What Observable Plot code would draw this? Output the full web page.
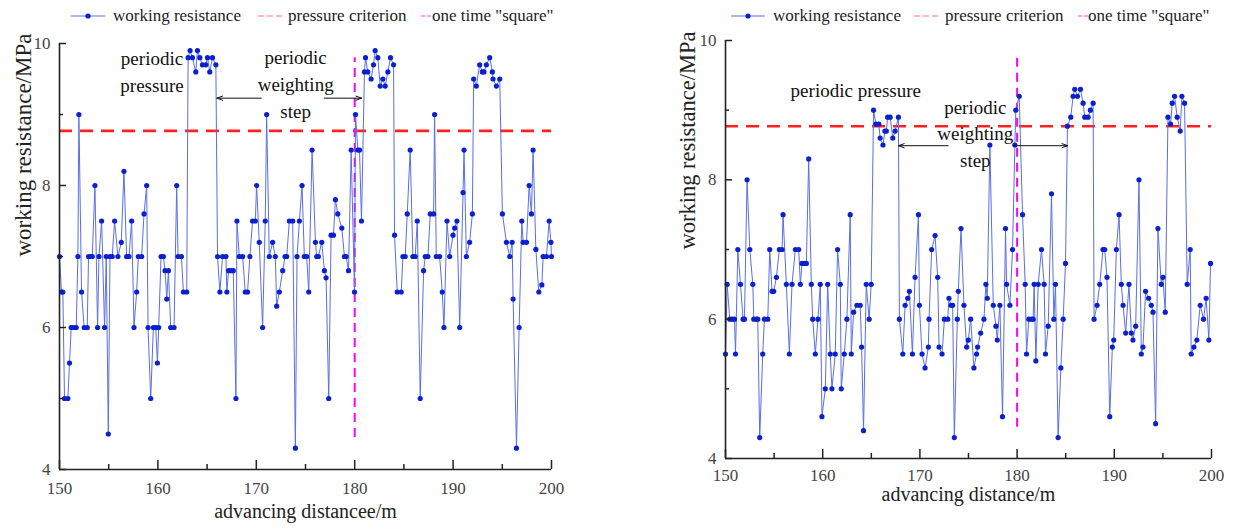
<!DOCTYPE html>
<html><head><meta charset="utf-8">
<script src="https://cdn.jsdelivr.net/npm/d3@7"></script>
<script src="https://cdn.jsdelivr.net/npm/@observablehq/plot@0.6"></script>
<style>
body{margin:0;background:#fff;}
#wrap{position:relative;width:1236px;height:532px;overflow:hidden;font-family:"Liberation Serif","Times New Roman",serif;}
.panel{position:absolute;top:0;}
.panel svg text{font-family:"Liberation Serif","Times New Roman",serif;}
.leg{position:absolute;top:5px;font-size:17px;color:#222;white-space:nowrap;display:flex;align-items:center;z-index:2;}
.leg svg{display:block;}
</style></head><body><div id="wrap"></div>
<script>
// ---- left panel data ----
const leftX = [150.00,150.20,150.34,150.51,150.85,151.02,151.19,151.46,151.70,151.87,151.97,152.24,152.51,152.82,152.95,153.16,153.33,153.60,153.87,154.01,154.28,154.58,154.75,154.96,155.13,155.36,155.60,155.94,156.28,156.55,156.82,157.06,157.33,157.57,157.84,158.01,158.35,158.59,158.86,159.00,159.27,159.54,159.78,159.95,160.08,160.32,160.56,160.73,160.90,161.07,161.30,161.64,161.91,162.05,162.39,162.59,162.93,163.07,163.27,163.51,163.85,164.02,164.26,164.53,164.87,165.04,165.27,165.55,165.89,
166.06,166.30,166.57,166.91,167.01,167.18,167.42,167.66,167.93,168.03,168.27,168.61,168.88,169.11,169.35,169.62,169.90,170.03,170.30,170.64,170.91,171.05,171.32,171.66,171.93,172.07,172.34,172.68,172.92,173.09,173.36,173.70,173.97,174.14,174.38,174.65,174.88,175.12,175.33,175.67,176.01,176.14,176.31,176.65,176.92,177.09,177.36,177.60,177.84,178.04,178.28,178.69,178.96,179.13,179.37,179.64,179.98,180.08,180.32,180.49,180.69,180.99,181.10,181.33,181.67,181.91,182.08,
182.35,182.59,182.86,183.10,183.37,183.64,183.95,184.05,184.32,184.73,184.90,185.13,185.34,185.64,185.91,186.15,186.36,186.66,187.00,187.17,187.44,187.68,188.02,188.12,188.29,188.63,188.90,189.07,189.38,189.65,189.99,190.16,190.39,190.67,191.01,191.11,191.35,191.68,191.96,192.09,192.36,192.70,192.97,193.14,193.38,193.72,193.99,194.06,194.40,194.74,195.01,195.42,195.76,196.00,196.10,196.44,196.71,196.98,197.12,197.46,197.73,197.96,198.13,198.41,198.71,199.02,199.15,199.49,199.76,199.94,200.00];
const leftY = [7,6.5,6.5,5,5,5.5,6,6,6,7,9,6.5,6,6,7,7,7,8,6,7,7.5,6,7,4.5,7,7,7.5,7,7.2,8.2,7,7,7.5,6,6.5,7,7,7.6,8,6,5,6,6,5.5,6,7,7,6.8,6.4,6.8,6,6,8,7,7,6.5,6.5,9.8,9.9,9.8,9.6,9.9,9.8,9.7,9.7,9.8,9.6,9.8,9.7,
7,6.5,7,7,6.5,6.8,6.8,6.8,5,7.5,7,7,6.5,6.5,7,7.5,7.5,8,7.2,6,7.5,9,7,7.2,7,6.3,6.5,6.8,7,7,7.5,7.5,4.3,7,7.5,8,7,7,6.5,8.5,7.2,7,7,7.2,6.8,6.7,5,7.3,7.3,7.8,7.6,7.4,7,7,6.8,8.5,6.5,9,8.5,8.5,7.5,9.6,9.8,9.6,9.5,9.7,9.9,
9.8,9.4,9.5,9.4,9.6,9.8,9.7,7.3,6.5,6.5,7,7,7.6,8.5,7,7,7.5,5,6.8,7,7,7.6,7.6,9,7,7,6.5,6,7.5,7,7.3,7.4,7.5,6,7.9,8.5,7,7.2,7.6,9.5,9.4,9.7,9.6,9.6,9.7,9.8,9.6,9.5,9.4,9.5,7.6,7.2,7,7.2,6.4,4.3,6,7.5,7.2,7.2,8,7.6,8.5,7.1,6.5,6.6,7,7,7.5,7.2,7];

// ---- right panel data ----
const rightX = [150.00,150.17,150.44,150.68,150.92,151.03,151.27,151.54,151.81,151.95,152.22,152.50,152.81,152.91,153.18,153.32,153.52,153.83,154.00,154.35,154.55,154.79,154.96,155.24,155.54,155.82,155.92,156.26,156.57,156.84,157.19,157.53,157.70,157.87,158.11,158.32,158.56,158.83,158.97,159.24,159.51,159.75,159.92,160.27,160.51,160.78,160.95,161.29,161.53,161.81,161.91,162.22,162.49,162.83,162.94,163.18,163.52,163.86,164.00,164.20,164.48,164.78,164.99,165.23,165.47,165.78,165.91,166.20,166.40,166.55,166.68,166.94,167.21,167.45,167.79,
167.89,168.24,168.48,168.75,168.92,169.23,169.50,169.85,169.95,170.22,170.53,170.87,170.94,171.21,171.56,171.83,171.97,172.28,172.52,172.86,172.99,173.20,173.37,173.54,173.85,173.95,174.23,174.53,174.81,174.98,175.22,175.56,175.83,175.94,176.25,176.59,176.79,176.93,177.20,177.55,177.82,177.96,178.23,178.50,178.81,178.92,179.26,179.53,179.77,179.87,180.22,180.56,180.83,180.97,181.21,181.48,181.65,181.75,181.93,182.17,
182.51,182.78,182.92,183.20,183.54,183.78,183.95,184.22,184.50,184.74,184.98,185.18,185.52,185.76,185.93,186.21,186.52,186.79,186.96,187.30,187.54,187.82,187.92,188.23,188.50,188.84,189.01,189.25,189.53,189.80,189.94,190.21,190.49,190.72,190.90,191.17,191.51,191.75,191.92,192.20,192.54,192.78,192.95,193.22,193.53,193.81,193.98,194.25,194.49,194.83,195.00,195.24,195.52,195.79,195.96,196.20,196.47,196.78,196.95,197.23,197.50,197.81,197.91,198.19,198.49,198.84,199.18,199.45,199.73,199.90];
const rightY = [5.5,6.5,6,6,6,5.5,7,6.5,6,6,8,7,6.5,6,6,6,4.3,5.5,6,6,7,6.4,6.4,6.6,7,7,7.5,6.5,5.5,6.5,7,7,6.5,6.8,6.8,6.8,8.3,6.5,6,5.5,6,6.5,4.6,5,6.5,5.5,5,5.5,7,6.5,5,5.5,6,7.5,5.5,6.1,6.2,6.2,5.6,4.4,6.5,6,6.5,9,8.8,8.8,8.6,8.5,8.7,8.7,8.9,8.9,8.6,8.7,8.9,
6,5.5,6.2,6.3,6.4,5.5,6.6,7.5,6.2,5.5,5.3,5.6,6,7,7.2,6.6,5.6,5.5,6,6,6.3,6.2,6.2,4.3,6,6.4,7.3,6.2,5.6,5.7,6,5.3,5.5,5.6,5.8,6,6.5,6.3,8.5,6.2,5.9,5.7,6.2,4.6,7.3,6.5,6.2,7,8.5,9,9.2,7.5,6.5,5.5,6,6,6,6.5,5.4,6.5,
7,6.5,5.5,5.9,7.8,6,6.5,4.3,5.3,6,6.8,8.77,8.9,9.2,9.3,9.2,9.3,9.1,8.9,8.9,9,9.1,6,6.2,6.5,7,7,6.6,4.6,5.6,5.7,7,7.5,6.5,6.2,5.8,6.5,5.8,5.7,5.9,8,5.5,5.6,6.4,6.3,6.2,6.1,4.5,7.3,6.5,6.6,6.1,8.9,8.8,9.1,9.2,8.9,8.7,9.2,9.1,6.5,7,5.5,5.6,5.7,6.2,6,6.3,5.7,6.8];

// ---- reference lines / ticks ----
const criterion = 8.77;
const squareX = 180;
const squareY = [4.45, 9.8];
const xTicks = [150,160,170,180,190,200];
const xMinor = [155,165,175,185,195];
const yTicks = [4,6,8,10];
const yMinor = [5,7,9];

// ---- annotations ----
const leftNotes = ["periodic\npressure", "periodic\nweighting\nstep"];
const leftNoteX = [159.4, 174.0];
const leftNoteY = [9.63, 9.45];
const leftNoteAnchor = ["middle", "middle"];
const leftArrowX1 = [170.5, 176.9];
const leftArrowX2 = [166.0, 180.7];
const leftArrowY = [9.23, 9.23];

const rightNotes = ["periodic pressure", "periodic\nweighting\nstep"];
const rightNoteX = [156.7, 175.7];
const rightNoteY = [9.31, 8.69];
const rightNoteAnchor = ["start", "middle"];
const rightArrowX1 = [172.9, 179.6];
const rightArrowX2 = [167.8, 185.2];
const rightArrowY = [8.49, 8.49];

const legendLabels = ["working resistance", "pressure criterion", "one time \"square\""];

const FONT = "Liberation Serif, Times New Roman, serif";

function drawPanel(o) {
  const W = o.W, H = 532;
  const data = o.xs.map((x, i) => ({x, y: o.ys[i]}));
  const plotH = H - o.mt - o.mb, plotW = W - o.ml - o.mr;
  const notes = o.notes.map((t, i) => ({t, x: o.noteX[i], y: o.noteY[i], a: o.noteAnchor[i]}));
  const arrows = o.ax1.map((x1, i) => ({x1, x2: o.ax2[i], y: o.ay[i]}));
  const ax = "#222";
  const noteMarks = ["start", "middle"].map(a =>
    Plot.text(notes.filter(d => d.a === a), {x: "x", y: "y", text: "t", textAnchor: a, fontSize: 19, lineHeight: 1.4, fill: "#111", fontFamily: FONT}));
  return Plot.plot({
    width: W, height: H,
    marginLeft: o.ml, marginRight: o.mr, marginTop: o.mt, marginBottom: o.mb,
    style: `font-family: ${FONT}; font-size: 17px; color: #444; background: transparent; overflow: visible;`,
    x: {domain: [150, 200]},
    y: {domain: [4, 10]},
    marks: [
      Plot.ruleY([criterion], {stroke: "#ff2020", strokeWidth: 2.6, strokeDasharray: "13,8"}),
      Plot.ruleX([squareX], {y1: squareY[0], y2: squareY[1], stroke: "#ff00ff", strokeWidth: 2, strokeDasharray: "9,6"}),
      Plot.line(data, {x: "x", y: "y", stroke: "#5a6ee6", strokeWidth: 1}),
      Plot.dot(data, {x: "x", y: "y", r: 2.6, fill: "#0b20cf"}),
      Plot.arrow(arrows, {x1: "x1", x2: "x2", y1: "y", y2: "y", stroke: "#111", strokeWidth: 1, headLength: 9, headAngle: 40}),
      ...noteMarks,
      Plot.ruleY([4], {stroke: ax, strokeWidth: 1.6}),
      Plot.ruleX([150], {stroke: ax, strokeWidth: 1.6}),
      Plot.tickX(xTicks, {x: d => d, insetTop: plotH - 9, stroke: ax, strokeWidth: 1.5}),
      Plot.tickX(xMinor, {x: d => d, insetTop: plotH - 5, stroke: ax, strokeWidth: 1.5}),
      Plot.tickY(yTicks, {y: d => d, insetRight: plotW - 7, stroke: ax, strokeWidth: 1.5}),
      Plot.tickY(yMinor, {y: d => d, insetRight: plotW - 4, stroke: ax, strokeWidth: 1.5}),
      Plot.axisX(xTicks, {tickSize: 0, tickPadding: o.xPad, label: null, fontSize: 17, tickFormat: d => String(d)}),
      Plot.axisY(yTicks, {tickSize: 0, tickPadding: 9, label: null, fontSize: 17, tickFormat: d => String(d)}),
      Plot.text([o.xTitle], {frameAnchor: "bottom", dy: o.xTitleDy, fontSize: 20, fill: "#222", fontFamily: FONT}),
      Plot.text([o.yTitle], {frameAnchor: "left", dx: o.yTitleDx, rotate: -90, fontSize: o.yTitleSize, fill: "#222", fontFamily: FONT})
    ]
  });
}

const wrap = document.getElementById("wrap");

function addPanel(left, opts) {
  const d = document.createElement("div");
  d.className = "panel";
  d.style.left = left + "px";
  d.appendChild(drawPanel(opts));
  wrap.appendChild(d);
}

addPanel(0, {
  W: 618, ml: 59, mr: 67, mt: 43, mb: 63, xPad: 12,
  xs: leftX, ys: leftY,
  notes: leftNotes, noteX: leftNoteX, noteY: leftNoteY, noteAnchor: leftNoteAnchor,
  ax1: leftArrowX1, ax2: leftArrowX2, ay: leftArrowY,
  xTitle: "advancing distancee/m", xTitleDy: 48,
  yTitle: "working resistance/MPa", yTitleDx: -36, yTitleSize: 23
});
addPanel(618, {
  W: 618, ml: 107, mr: 25, mt: 40, mb: 74, xPad: 10,
  xs: rightX, ys: rightY,
  notes: rightNotes, noteX: rightNoteX, noteY: rightNoteY, noteAnchor: rightNoteAnchor,
  ax1: rightArrowX1, ax2: rightArrowX2, ay: rightArrowY,
  xTitle: "advancing distance/m", xTitleDy: 42,
  yTitle: "working resistance/MPa", yTitleDx: -38, yTitleSize: 22.5
});

// ---- legends (HTML above the plots) ----
function sample(kind) {
  const ns = "http://www.w3.org/2000/svg";
  const s = document.createElementNS(ns, "svg");
  if (kind === 0) {
    s.setAttribute("width", 36); s.setAttribute("height", 10);
    s.innerHTML = '<line x1="1" y1="5" x2="35" y2="5" stroke="#5a6ee6" stroke-width="1.2"/><circle cx="18" cy="5" r="2.6" fill="#0b20cf"/>';
  } else if (kind === 1) {
    s.setAttribute("width", 26); s.setAttribute("height", 10);
    s.innerHTML = '<line x1="0" y1="5" x2="26" y2="5" stroke="#ff7070" stroke-width="1.2" stroke-dasharray="6,3"/>';
  } else {
    s.setAttribute("width", 10); s.setAttribute("height", 10);
    s.innerHTML = '<line x1="0" y1="5" x2="10" y2="5" stroke="#ff40ff" stroke-width="1.2" stroke-dasharray="4,2"/>';
  }
  return s;
}
function addLegend(items) {
  items.forEach(([kind, sx, tx]) => {
    const a = document.createElement("div");
    a.className = "leg";
    a.style.left = sx + "px";
    a.style.height = "22px";
    a.appendChild(sample(kind));
    wrap.appendChild(a);
    const b = document.createElement("div");
    b.className = "leg";
    b.style.left = tx + "px";
    b.style.height = "22px";
    b.textContent = legendLabels[kind];
    wrap.appendChild(b);
  });
}
addLegend([[0, 70, 113], [1, 258, 288], [2, 421, 432]]);
addLegend([[0, 730, 773], [1, 914, 945], [2, 1078, 1088]]);
</script>
</body></html>
